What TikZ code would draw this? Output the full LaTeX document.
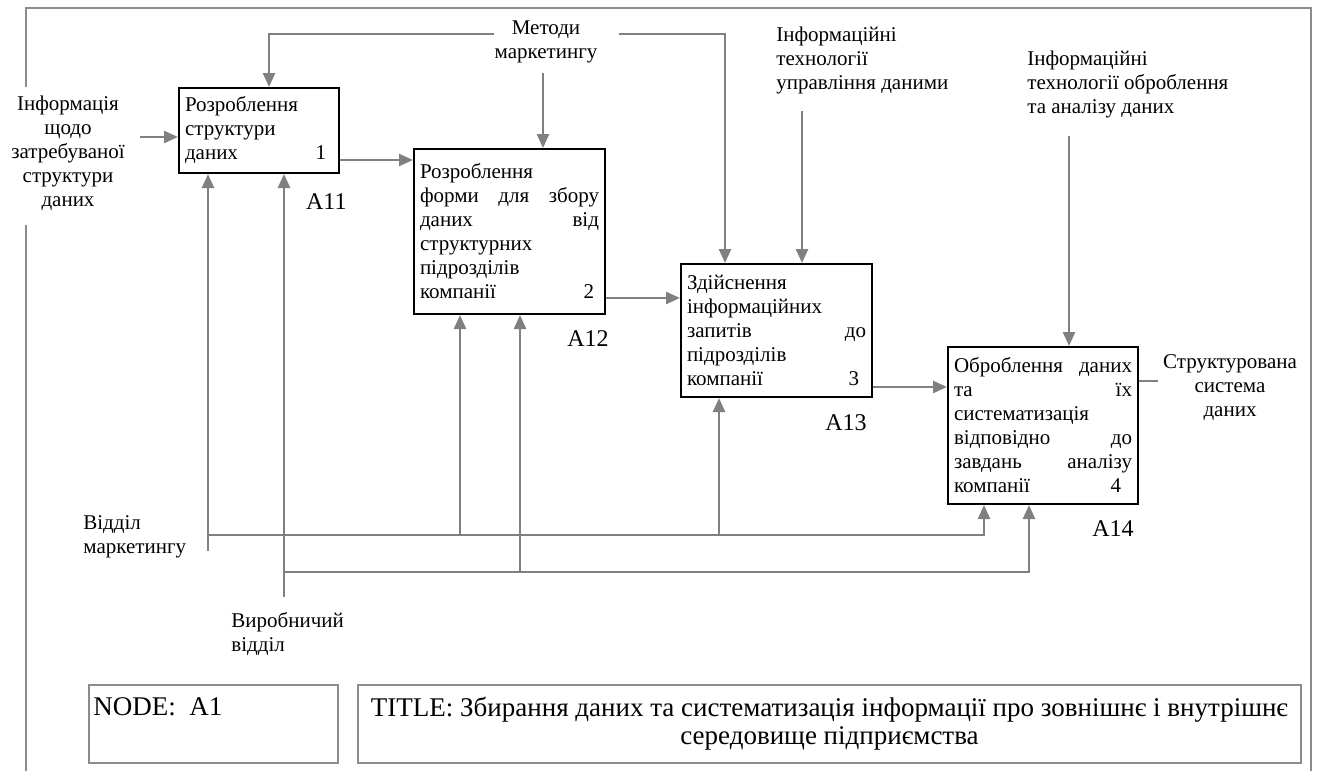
\documentclass[tikz,border=0pt]{standalone}
\usepackage{fontspec}
\setmainfont{Liberation Serif}
\usetikzlibrary{
    arrows.meta,  % For the triangle arrow tips
    positioning   % For relative placement of the labels
}
\definecolor{linegray}{RGB}{128,128,128}
\definecolor{framegray}{RGB}{140,140,140}

\begin{document}
\begin{tikzpicture}[
    x=0.5pt, y=-0.5pt,
    font=\fontsize{10.5}{12}\selectfont,
    funcbox/.style={draw=black, line width=1pt, anchor=north west,
        inner xsep=3pt, inner ysep=0pt, align=left},
    boxlabel/.style={inner sep=0pt, font=\fontsize{12}{14}\selectfont},
    extlabel/.style={inner sep=0pt},
    flow/.style={draw=linegray, line width=1.25pt,
        -{Triangle[length=7pt, width=6pt]}},
    link/.style={draw=linegray, line width=1.25pt},
    frameline/.style={draw=framegray, line width=1pt},
    sheetbox/.style={draw=framegray, line width=1pt, anchor=north west, inner sep=0pt},
    sheettext/.style={inner sep=0pt, font=\fontsize{13.5}{13.7}\selectfont}
]
    \useasboundingbox (0,0) rectangle (1317,771);

    % --- Outer frame ---
    \draw[frameline] (26,771) -- (26,225);
    \draw[frameline] (26,87) -- (26,8) -- (1311,8) -- (1311,771);

    % --- Functions ---
    \node[funcbox, text width=74pt, minimum height=42.5pt] (a11) at (178,87)
        {Розроблення\\структури\\даних \hfill 1\kern3.5pt};
    \node[funcbox, text width=89.5pt, minimum height=82.5pt] (a12) at (413,148)
        {Розроблення\\форми \hfill для \hfill збору\\даних \hfill від\\структурних\\підрозділів\\компанії \hfill 2\kern2.5pt};
    \node[funcbox, text width=89.5pt, minimum height=66.5pt] (a13) at (680,263)
        {Здійснення\\інформаційних\\запитів \hfill до\\підрозділів\\компанії \hfill 3\kern3.5pt};
    \node[funcbox, text width=89pt, minimum height=78.5pt] (a14) at (947,346)
        {Оброблення \hfill даних\\та \hfill їх\\систематизація\\відповідно \hfill до\\завдань \hfill аналізу\\компанії \hfill 4\kern5.5pt};

    \node[boxlabel, below left=9.5pt and -3.5pt of a11.south east] (a11lbl) {A11};
    \node[boxlabel, below left=7.5pt and -1.5pt of a12.south east] (a12lbl) {A12};
    \node[boxlabel, below left=8pt and 3pt of a13.south east] (a13lbl) {A13};
    \node[boxlabel, below left=7.5pt and 2.5pt of a14.south east] (a14lbl) {A14};

    % --- Arrow labels ---
    \node[extlabel, align=center] (inlbl) at (68,153)
        {Інформація\\щодо\\затребуваної\\структури\\даних};
    \node[extlabel, align=center] (metody) at (546,42) {Методи\\маркетингу};
    \node[extlabel, align=left, anchor=north west] (itdata) at (776,27)
        {Інформаційні\\технології\\управління даними};
    \node[extlabel, align=left, anchor=north west] (itproc) at (1027,51)
        {Інформаційні\\технології оброблення\\та аналізу даних};
    \node[extlabel, align=center] (outlbl) at (1230,388)
        {Структурована\\система\\даних};
    \node[extlabel, align=left, anchor=north west] (mkt) at (83,515)
        {Відділ\\маркетингу};
    \node[extlabel, align=left, anchor=north west] (vyr) at (231,612)
        {Виробничий\\відділ};

    % --- Inputs and outputs ---
    \coordinate (instart) at (140,137);
    \draw[flow] (instart) -- (a11.west |- instart);
    \draw[flow] (a11.east |- 0,160) -- (a12.west |- 0,160);
    \draw[flow] (a12.east |- 0,298) -- (a13.west |- 0,298);
    \draw[flow] (a13.east |- 0,387) -- (a14.west |- 0,387);
    \coordinate (outend) at (1158,381);
    \draw[link] (a14.east |- outend) -- (outend);

    % --- Controls ---
    \coordinate (ctlright) at (619,34);
    \coordinate (ctlmid) at (543,73);
    \draw[flow] (metody.west |- 0,34) -| (a11.north -| 269,0);
    \draw[flow] (ctlright) -| (a13.north -| 725,0);
    \draw[flow] (ctlmid) -- (a12.north -| ctlmid);
    \coordinate (itdtop) at (802,111);
    \draw[flow] (itdtop) -- (a13.north -| itdtop);
    \coordinate (itptop) at (1069,136);
    \draw[flow] (itptop) -- (a14.north -| itptop);

    % --- Mechanisms ---
    \coordinate (mktend) at (208,551);
    \coordinate (vyrend) at (284,597);
    \draw[flow] (mktend) -- (a11.south -| mktend);
    \draw[flow] (mktend |- 0,535) -| (a14.south -| 984,0);
    \foreach \bx/\tgt in {460/a12, 719/a13}
        \draw[flow] (\bx,535) -- (\tgt.south -| \bx,0);
    \draw[flow] (vyrend) -- (a11.south -| vyrend);
    \draw[flow] (vyrend |- 0,572) -| (a14.south -| 1029,0);
    \draw[flow] (520,572) -- (a12.south -| 520,0);

    % --- Sheet boxes ---
    \node[sheetbox, minimum width=124.5pt, minimum height=39pt] (nodebox) at (88,684) {};
    \node[sheettext, below right=6.5pt and 2.5pt of nodebox.north west] (nodetext) {NODE:\ \ A1};
    \node[sheetbox, minimum width=471.5pt, minimum height=39pt] (titlebox) at (357,684) {};
    \node[sheettext, align=center, below=6.5pt of titlebox.north] (titletext)
        {TITLE: Збирання даних та систематизація інформації про зовнішнє і внутрішнє\\середовище підприємства};
\end{tikzpicture}
\end{document}
